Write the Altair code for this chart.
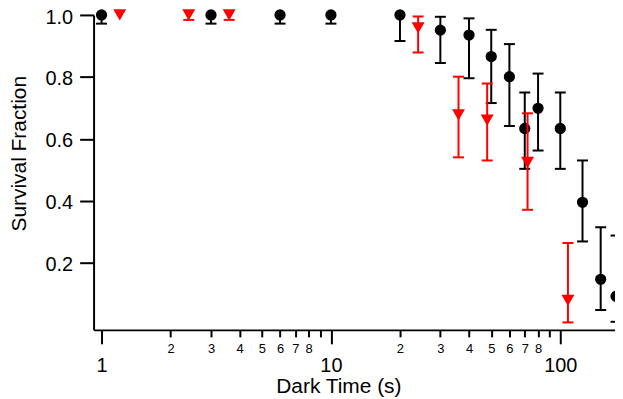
import altair as alt
import pandas as pd

# Black series (circles)
black_t = [1, 3, 6, 10, 20, 30, 40, 50, 60, 70, 80, 100, 125, 150, 175]
black_frac = [1.0, 1.0, 1.0, 1.0, 1.0, 0.951, 0.935, 0.866, 0.801, 0.634, 0.699, 0.634, 0.396, 0.148, 0.093]
black_low = [0.972, 0.972, 0.972, 0.972, 0.916, 0.845, 0.796, 0.716, 0.642, 0.504, 0.563, 0.504, 0.270, 0.049, 0.011]
black_high = [1.0, 1.0, 1.0, 1.0, 1.0, 0.994, 0.989, 0.952, 0.906, 0.750, 0.811, 0.750, 0.531, 0.316, 0.289]

# Red series (down triangles)
red_t = [1.2, 2.4, 3.6, 24, 36, 48, 72, 108]
red_frac = [1.0, 1.0, 1.0, 0.958, 0.678, 0.661, 0.525, 0.080]
red_low = [1.0, 0.984, 0.984, 0.879, 0.541, 0.531, 0.372, 0.009]
red_high = [1.0, 1.0, 1.0, 0.995, 0.801, 0.779, 0.683, 0.265]

x_ticks = [1, 2, 3, 4, 5, 6, 7, 8, 9, 10, 20, 30, 40, 50, 60, 70, 80, 90, 100]
y_ticks = [0.2, 0.4, 0.6, 0.8, 1.0]

X_DOMAIN = [0.923, 173.2]
Y_DOMAIN = [-0.015, 1.0]


def frame(t, f, lo, hi):
    return pd.DataFrame({"t": t, "f": f, "lo": lo, "hi": hi})


def caps(t, f, lo, hi):
    rows = []
    for ti, fi, l, h in zip(t, f, lo, hi):
        if l != fi:
            rows.append({"t": ti, "v": l})
        if h != fi:
            rows.append({"t": ti, "v": h})
    return pd.DataFrame(rows)


black_df = frame(black_t, black_frac, black_low, black_high)
red_df = frame(red_t, red_frac, red_low, red_high)
black_caps = caps(black_t, black_frac, black_low, black_high)
red_caps = caps(red_t, red_frac, red_low, red_high)

major = "datum.value == 1 || datum.value == 10 || datum.value == 100"

x_scale = alt.Scale(type="log", domain=X_DOMAIN, nice=False)
y_scale = alt.Scale(domain=Y_DOMAIN, nice=False, zero=False)

x_axis = alt.Axis(
    values=x_ticks,
    labelExpr=(
        "(" + major + ") ? format(datum.value, 'd') : "
        "(datum.value == 9 || datum.value == 90) ? '' : "
        "format(datum.value < 10 ? datum.value : datum.value / 10, 'd')"
    ),
    labelFontSize={"condition": {"test": major, "value": 20}, "value": 13},
    tickSize={"condition": {"test": major, "value": 14}, "value": 7},
    labelPadding={"condition": {"test": major, "value": 12}, "value": 6},
    labelBaseline="top",
    labelFlush=False,
    labelOverlap=False,
    grid=False,
    title="Dark Time (s)",
    titleX=246,
    titleY=63,
    titleAlign="center",
    titleBaseline="alphabetic",
)

y_axis = alt.Axis(
    values=y_ticks,
    format=".1f",
    labelFontSize=20,
    labelOffset={"condition": {"test": "datum.value >= 0.99", "value": 2.5}, "value": 1.5},
    tickSize=14,
    labelPadding=7,
    grid=False,
    title="Survival Fraction",
    titleX=-68,
    titleY=139,
    titleAlign="center",
    titleBaseline="alphabetic",
    titleAngle=270,
)


def X():
    return alt.X("t:Q", scale=x_scale, axis=x_axis, title="Dark Time (s)")


def Y(field):
    return alt.Y(field, type="quantitative", scale=y_scale, axis=y_axis, title="Survival Fraction")


black_rule = alt.Chart(black_df).mark_rule(color="black", strokeWidth=2, clip=False).encode(
    x=X(), y=Y("lo"), y2="hi:Q"
)
black_cap = alt.Chart(black_caps).mark_tick(
    color="black", orient="horizontal", size=11, thickness=2, opacity=1, clip=False
).encode(x=X(), y=Y("v"))
black_pts = alt.Chart(black_df).mark_point(
    shape="circle", filled=True, color="black", size=128, opacity=1, clip=False
).encode(x=X(), y=Y("f"))

red_rule = alt.Chart(red_df).mark_rule(color="#ff0000", strokeWidth=2, clip=False).encode(
    x=X(), y=Y("lo"), y2="hi:Q"
)
red_cap = alt.Chart(red_caps).mark_tick(
    color="#ff0000", orient="horizontal", size=11, thickness=2, opacity=1, clip=False
).encode(x=X(), y=Y("v"))
red_pts = alt.Chart(red_df).mark_point(
    shape="triangle-down", filled=True, color="#ff0000", size=170, opacity=1, clip=False
).encode(x=X(), y=Y("f"))

chart = (
    alt.layer(black_rule, black_cap, black_pts, red_rule, red_cap, red_pts)
    .properties(
        width=524,
        height=316.5,
        autosize=alt.AutoSizeParams(type="none"),
        padding={"left": 86, "top": 6, "right": 0, "bottom": 69},
    )
    .configure_view(strokeWidth=0)
    .configure_axis(
        domainColor="black",
        domainWidth=2,
        tickColor="black",
        tickWidth=2,
        labelColor="black",
        titleColor="black",
        labelFont="Liberation Sans",
        titleFont="Liberation Sans",
        titleFontSize=21,
        titleFontWeight="normal",
    )
)

chart.save("out.html", embed_options={"renderer": "svg", "actions": False})
